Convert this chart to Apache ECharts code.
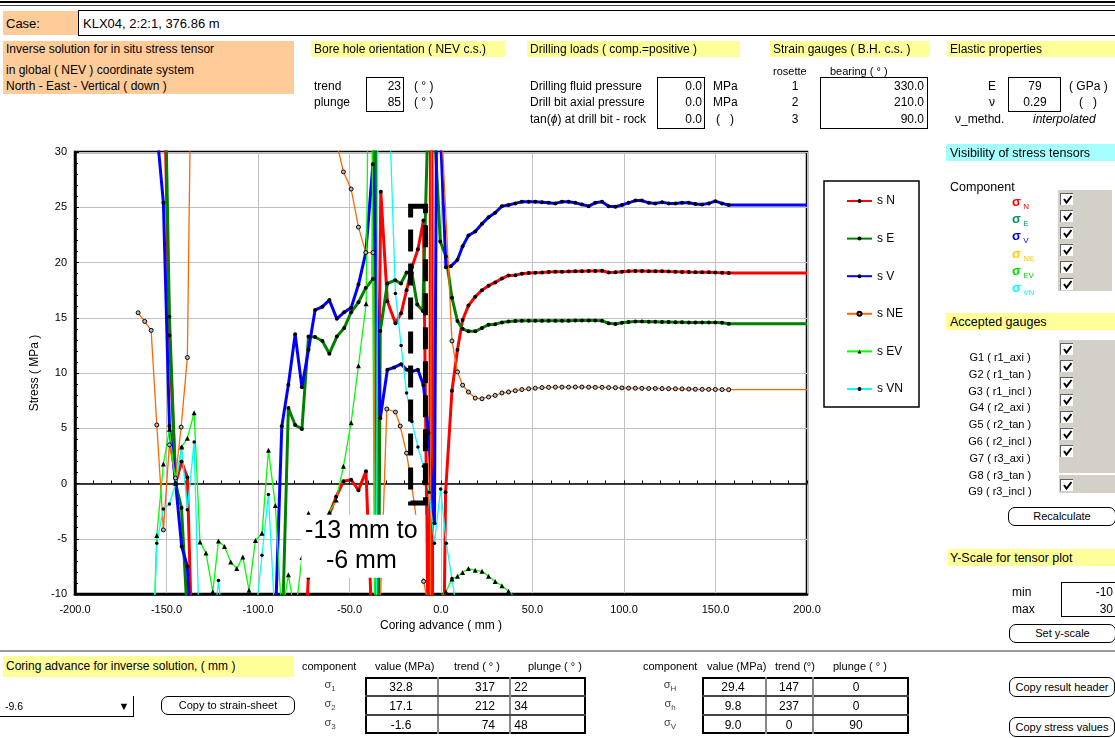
<!DOCTYPE html>
<html><head><meta charset="utf-8">
<script src="https://cdn.jsdelivr.net/npm/echarts@6/dist/echarts.min.js"></script>
<style>
html,body{margin:0;padding:0;background:#fff;}
body{width:1115px;height:738px;overflow:hidden;position:relative;font-family:'Liberation Sans',Arial,sans-serif;color:#000;}
#chart{position:absolute;left:0;top:0;width:1115px;height:738px;}
.t{position:absolute;white-space:nowrap;line-height:1;transform:translateY(-50%);font-size:12px;}
.r{transform:translate(-100%,-50%);}
.c{transform:translate(-50%,-50%);}
.blk{position:absolute;}
.or{background:#FFCC99;}
.ye{background:#FFFF99;}
.cy{background:#A6FFFF;}
.bx{position:absolute;border:1.5px solid #000;box-sizing:border-box;background:#fff;}
.btn{position:absolute;border:1px solid #000;border-radius:7px;box-sizing:border-box;text-align:center;font-size:11px;background:#fff;}
.gray{position:absolute;background:#D4D0C8;}
.cb{position:absolute;width:13px;height:12px;background:#fff;border-top:1px solid #606060;border-left:1px solid #606060;box-sizing:border-box;}
.cb svg{position:absolute;left:1px;top:0px;}
sub{font-size:8px;vertical-align:-3px;}
</style></head>
<body>
<div id="chart"></div>
<div id="panel"></div>
<script>
// ---------------- chart data ----------------
const seriesNames = ['s N', 's E', 's V', 's NE', 's EV', 's VN'];
const xRight = [18.7,22.4,26.0,29.6,33.3,36.9,40.6,44.2,47.9,51.5,55.2,58.8,62.5,66.1,69.7,73.4,77.0,80.7,84.3,88.0,91.6,95.3,98.9,102.5,106.2,109.8,113.5,117.1,120.8,124.4,128.1,131.7,135.4,139.0,142.7,146.3,149.9,153.6,157.2];

const sN_left = [[-151.7,40],[-148.4,13.4],[-145,0],[-141.8,2.0],[-138.6,0.55],[-136,-15],[-100,-30],[-76,-20],[-72.5,-8.5],[-68.8,-6.5],[-65,-4.8],[-61.5,-3.0],[-57.3,-1.2],[-53.3,0.2],[-49.1,0.34],[-45.1,-0.6],[-41.0,1.1],[-37.2,-15],[-35.5,-15],[-32.9,26.4],[-29.3,16.5],[-24.9,14.5],[-21.8,15.4],[-18.8,17.5],[-15.9,19.56],[-12.6,21.2],[-9.6,23.8],[-6.3,-25],[-5.3,80],[-4.2,-60],[0.5,-30],[2.5,-0.8],[6,8.4],[9,12.1],[11.8,14.8],[15,16.1]];
const sN_right = [16.9,17.5,17.9,18.2,18.55,18.83,18.85,18.99,19.05,19.08,19.1,19.14,19.17,19.17,19.18,19.2,19.2,19.22,19.24,19.26,19.1,19.12,19.17,19.2,19.22,19.22,19.2,19.2,19.2,19.18,19.17,19.15,19.13,19.12,19.12,19.12,19.1,19.08,19.05];

const sE_left = [[-151.7,45],[-148.4,15.1],[-145,0],[-141.8,-2.2],[-138.6,-12],[-110,-30],[-87,-15],[-83.4,6.83],[-79.7,5.3],[-76,4.93],[-72.4,13.3],[-68.8,13.26],[-64.8,12.9],[-61,11.75],[-56.9,13.3],[-52.9,14.07],[-49.1,15.5],[-45.1,16.4],[-41.1,17.7],[-37.2,18.5],[-36.2,60],[-35.0,-40],[-33.2,13.8],[-29.3,18.1],[-25,18.4],[-21.9,18.1],[-18.8,19.1],[-15.9,19.05],[-13.0,16.2],[-9.9,15.6],[-6.0,40],[-0.4,21.9],[2.7,20.55],[6,16.8],[9,14.7],[11.8,14.0],[15,13.77]];
const sE_right = [13.77,14.07,14.37,14.42,14.58,14.67,14.7,14.72,14.72,14.73,14.73,14.73,14.73,14.73,14.73,14.74,14.75,14.76,14.76,14.72,14.5,14.44,14.55,14.62,14.65,14.65,14.63,14.63,14.62,14.61,14.6,14.59,14.58,14.57,14.56,14.56,14.56,14.55,14.45];

const sV_left = [[-158.4,60],[-155.3,32],[-151.7,25.4],[-148.4,5.2],[-145,0],[-141.7,-5.7],[-138.6,-7.5],[-136,-15],[-110,-30],[-92,-20],[-87,5.17],[-83.4,8.94],[-79.7,13.5],[-76,8.7],[-72.4,12.1],[-68.8,15.7],[-64.8,16.0],[-61,16.6],[-56.9,14.9],[-52.9,15.5],[-49.1,15.9],[-45.1,18],[-41.1,20.9],[-37.2,28.9],[-33.2,5.9],[-29.3,10.3],[-25.6,10.5],[-21.8,10.8],[-18.8,10.3],[-15.9,10.15],[-12.6,10.3],[-9.6,8.9],[-6.8,4.6],[-3.6,-3.6],[-1.6,60],[-0.6,33],[2.7,19.56],[5.4,19.65],[9,20.25],[11.8,21.46],[15,22.45]];
const sV_right = [22.8,23.5,24.1,24.5,25.1,25.2,25.35,25.5,25.5,25.5,25.45,25.4,25.35,25.5,25.5,25.4,25.25,25.1,25.4,25.5,25.1,25.05,25.2,25.4,25.6,25.6,25.4,25.35,25.45,25.35,25.35,25.4,25.4,25.3,25.25,25.35,25.55,25.35,25.2];

const sNE_left = [[-165.5,15.45],[-161.9,14.67],[-158.4,13.86],[-155.3,5.3],[-151.7,-4.2],[-148.4,3.5],[-145.1,0.5],[-142,5.1],[-138.6,11.4],[-134.9,60],[-100,70],[-61,60],[-57.3,31],[-53.3,28.2],[-49.1,26.65],[-45.1,23.2],[-41.1,20.9],[-37.2,20.9],[-35,-20],[-29.6,6.74],[-24.9,6.47],[-22.3,5.2],[-18.8,2.75],[-14.6,-1.77],[-9.5,-8.86],[-5.8,-12],[-4.6,80],[0.2,32.7],[6,12.9],[9,10.1],[11.8,8.9],[15,8.28]];
const sNE_right = [7.73,7.67,7.83,7.97,8.19,8.28,8.4,8.5,8.57,8.62,8.68,8.7,8.72,8.72,8.72,8.73,8.73,8.72,8.7,8.7,8.68,8.67,8.65,8.63,8.62,8.61,8.6,8.6,8.59,8.58,8.57,8.56,8.55,8.53,8.52,8.52,8.51,8.5,8.49];

const sEV = [[-156.8,-12],[-155.3,-4.7],[-151.7,1.76],[-148.4,4.9],[-145,0],[-141.7,3.3],[-138.6,4.1],[-134.9,6.4],[-131.7,-5.3],[-128.4,-6.3],[-124.7,-9.8],[-121.6,-5.2],[-118.3,-5.7],[-114.9,-7.1],[-111.6,-7.7],[-108.3,-6.65],[-104.9,-9.67],[-101.4,-5.15],[-97.8,-4.5],[-94.3,3.0],[-90.5,-2.0],[-87,-12],[-83.4,-8.25],[-79.7,-12],[-76,-6.7],[-72.4,-2.7],[-68.8,-4],[-65,-3.5],[-61,-2.6],[-57.3,-1.5],[-53.3,1.55],[-49.1,5.5],[-45.1,10.66],[-40.9,16.27],[-38.5,60],[-35.5,-40],[-20,-30],[-3,-20],[-0.4,-10.2],[2.7,-9.8],[6,-8.64],[9,-8.4],[11.8,-8.05],[15,-7.7],[18.7,-7.86],[22.4,-7.95],[26,-8.4],[29.6,-8.86],[33.3,-9.25],[36.9,-9.76],[40.6,-10.3],[44.2,-11],[60,-13]];

const sVN = [[-157,-14],[-155.3,-5.4],[-151.7,-2.3],[-148.4,-1.86],[-145,0],[-141.7,3.27],[-138.6,-2.37],[-134.9,3.75],[-131.7,-16],[-124.7,-14],[-121.6,-8.77],[-118.3,-14],[-101.4,-12],[-97.8,-6.5],[-94.3,-1.0],[-90.5,-13],[-40,-20],[-36,-60],[-34,70],[-31.5,50],[-24.9,17.2],[-21.8,12.5],[-18.8,8.2],[-15.9,5.6],[-12.6,3.3],[-9.6,1.55],[-6.5,-0.8],[-3.6,-5.4],[-0.2,-0.5],[2.9,-5.4],[6,-8.6],[9,-12],[20,-20]];

const xTicks = [-200, 200, 50];
const yTicks = [-10, 30, 5];
const boxRange = [[-16.6, 25.1], [-8.5, -1.77]];
const annotText = '-13 mm to\n-6 mm';

// ---------------- dashboard values ----------------
const caseText = 'KLX04, 2:2:1, 376.86 m';
const boreVals = ['23', '85'];
const drillVals = ['0.0', '0.0', '0.0'];
const rosetteIds = ['1', '2', '3'];
const bearings = ['330.0', '210.0', '90.0'];
const elastic = ['79', '0.29'];
const gaugeNames = ['G1 ( r1_axi )','G2 ( r1_tan )','G3 ( r1_incl )','G4 ( r2_axi )','G5 ( r2_tan )','G6 ( r2_incl )','G7 ( r3_axi )','G8 ( r3_tan )','G9 ( r3_incl )'];
const principal = [['32.8','317','22'],['17.1','212','34'],['-1.6','74','48']];
const horiz = [['29.4','147','0'],['9.8','237','0'],['9.0','0','90']];
const yScale = ['-10', '30'];
const coringValue = '-9.6';

function build(left, right) {
  const d = left.map(p => [p[0], p[1]]);
  if (right) {
    for (let i = 0; i < xRight.length; i++) d.push([xRight[i], right[i]]);
    d.push({value: [200, right[right.length - 1]], symbol: 'none'});
  }
  return d;
}

const FF = "'Liberation Sans', Arial, sans-serif";
function mkSeries(name, data, color, width, symbol, size, fill) {
  return {
    name, type: 'line', data, clip: true, showSymbol: true, showAllSymbol: true,
    symbol, symbolSize: size, animation: false,
    lineStyle: {color, width},
    itemStyle: {color: fill, borderColor: '#000', borderWidth: symbol === 'circle' && fill !== '#000' ? 1 : 0},
    emphasis: {disabled: true}, z: 3
  };
}

const chart = echarts.init(document.getElementById('chart'), null, {renderer: 'canvas'});
const option = {
  animation: false,
  backgroundColor: 'transparent',
  textStyle: {fontFamily: FF},
  grid: {left: 75, right: 308, top: 152, bottom: 144, show: true, borderColor: '#000', borderWidth: 2.5, backgroundColor: 'transparent', outerBoundsMode: 'none', containLabel: false},
  legend: {
    orient: 'vertical', left: 824, top: 181, data: seriesNames,
    borderColor: '#000', borderWidth: 1.5, padding: [14, 16, 12, 22],
    itemGap: 25.6, itemWidth: 25, itemHeight: 5,
    textStyle: {fontSize: 12, color: '#000', fontFamily: FF}, backgroundColor: '#fff'
  },
  xAxis: [{
    type: 'value', min: xTicks[0], max: xTicks[1], interval: xTicks[2], position: 'bottom',
    axisLine: {show: true, onZero: false, lineStyle: {color: '#000', width: 2.5}},
    axisTick: {show: false},
    axisLabel: {formatter: v => v.toFixed(1), fontSize: 11, color: '#000', margin: 10, fontFamily: FF},
    splitLine: {show: true, lineStyle: {color: '#C0C0C0', width: 1}},
    name: 'Coring advance ( mm )', nameLocation: 'middle', nameGap: 26,
    nameTextStyle: {fontSize: 12, color: '#000', fontFamily: FF}
  }, {
    type: 'value', min: xTicks[0], max: xTicks[1], interval: 10, position: 'bottom',
    axisLine: {show: true, onZero: true, onZeroAxisIndex: 0, lineStyle: {color: '#000', width: 1.5}},
    axisTick: {show: true, inside: true, length: 3, lineStyle: {color: '#000', width: 1}},
    axisLabel: {show: false}, splitLine: {show: false}
  }],
  yAxis: [{
    type: 'value', min: yTicks[0], max: yTicks[1], interval: yTicks[2],
    axisLine: {show: true, onZero: false, lineStyle: {color: '#000', width: 2.5}},
    axisTick: {show: true, inside: true, length: 4, lineStyle: {color: '#000'}},
    minorTick: {show: true, splitNumber: 5, length: 3, lineStyle: {color: '#000'}},
    axisLabel: {fontSize: 11, color: '#000', margin: 8, fontFamily: FF},
    splitLine: {show: true, lineStyle: {color: '#C0C0C0', width: 1}},
    name: 'Stress ( MPa )', nameLocation: 'middle', nameGap: 26, nameRotate: 90,
    nameTextStyle: {fontSize: 12, color: '#000', fontFamily: FF}
  }],
  series: [
    mkSeries('s N', build(sN_left, sN_right), '#FF0000', 3, 'circle', 4, '#000'),
    mkSeries('s E', build(sE_left, sE_right), '#008000', 3, 'circle', 4, '#000'),
    mkSeries('s V', build(sV_left, sV_right), '#0000FF', 3, 'circle', 4, '#000'),
    mkSeries('s NE', build(sNE_left, sNE_right), '#FF6600', 1.3, 'circle', 4, '#BBBBBB'),
    mkSeries('s EV', build(sEV), '#00FF00', 1.3, 'triangle', 5, '#000'),
    mkSeries('s VN', build(sVN), '#00FFFF', 1.3, 'circle', 3.5, '#000')
  ]
};
chart.setOption(option);

// annotations placed through the axes
const p1 = chart.convertToPixel({gridIndex: 0}, boxRange[0]);
const p2 = chart.convertToPixel({gridIndex: 0}, boxRange[1]);
const t1 = chart.convertToPixel({gridIndex: 0}, [-76.3, -2.83]);
const t2 = chart.convertToPixel({gridIndex: 0}, [-8.6, -8.53]);
chart.setOption({
  graphic: [
    {type: 'rect', z: 50, shape: {x: p1[0], y: p1[1], width: p2[0] - p1[0], height: p2[1] - p1[1]},
     style: {fill: 'none', stroke: '#000', lineWidth: 5, lineDash: [22, 12]}},
    {type: 'rect', z: 51, shape: {x: t1[0], y: t1[1], width: t2[0] - t1[0], height: t2[1] - t1[1]},
     style: {fill: '#fff', stroke: 'none'}},
    {type: 'text', z: 52, x: (t1[0] + t2[0]) / 2 - 2, y: (t1[1] + t2[1]) / 2,
     style: {text: annotText, font: "25px 'Liberation Sans', Arial, sans-serif", fill: '#000', align: 'center', verticalAlign: 'middle', lineHeight: 30}}
  ]
});

// ---------------- dashboard (HTML) ----------------
const P = document.getElementById('panel');
function blk(cls, x, y, w, h, extra) {
  const d = document.createElement('div');
  d.className = cls;
  d.style.cssText = `left:${x}px;top:${y}px;width:${w}px;height:${h}px;` + (extra || '');
  P.appendChild(d); return d;
}
function txt(s, x, y, size, al, extra) {
  const d = document.createElement('div');
  d.className = 't' + (al ? ' ' + al : '');
  d.style.cssText = `left:${x}px;top:${y}px;font-size:${size}px;` + (extra || '');
  d.innerHTML = s; P.appendChild(d); return d;
}
function cb(x, y) {
  const d = blk('cb', x, y, 13, 12);
  d.innerHTML = '<svg width="11" height="11"><path d="M2 5 L4.5 8.5 L9.5 2" stroke="#000" stroke-width="2" fill="none"/></svg>';
}
function btn(s, x, y, w, h) {
  const d = blk('btn', x, y, w, h, `line-height:${h - 2}px;`);
  d.textContent = s;
}

// top lines
blk('blk', 0, 1, 1115, 2, 'background:#000;');
blk('blk', 0, 5, 1115, 1, 'background:#444;');
// case row
blk('blk or', 3, 11, 75, 24);
txt('Case:', 6, 23, 13);
blk('bx', 78, 10, 1040, 26);
txt(caseText, 83, 23, 13);
// orange block
blk('blk or', 3, 41, 291, 53);
txt('Inverse solution for in situ stress tensor', 6, 49, 12);
txt('in global ( NEV ) coordinate system', 6, 70, 12);
txt('North - East - Vertical ( down )', 6, 86, 12);
// bore hole
blk('blk ye', 311, 41, 194, 16);
txt('Bore hole orientation ( NEV c.s.)', 314, 49, 12);
txt('trend', 314, 86, 12); txt('plunge', 314, 102, 12);
blk('bx', 366, 77, 38, 35);
txt(boreVals[0], 401, 86, 12, 'r'); txt(boreVals[1], 401, 102, 12, 'r');
txt('( ° )', 414, 86, 12); txt('( ° )', 414, 102, 12);
// drilling loads
blk('blk ye', 527, 41, 213, 16);
txt('Drilling loads ( comp.=positive )', 530, 49, 12);
txt('Drilling fluid pressure', 530, 86, 12);
txt('Drill bit axial pressure', 530, 102, 12);
txt('tan(<i>ϕ</i>) at drill bit - rock', 530, 119, 12);
blk('bx', 657, 77, 48, 52);
drillVals.forEach((v, i) => txt(v, 702, [86, 102, 119][i], 12, 'r'));
txt('MPa', 713, 86, 12); txt('MPa', 713, 102, 12); txt('(&nbsp;&nbsp; )', 716, 119, 12);
// strain gauges
blk('blk ye', 770, 41, 159, 16);
txt('Strain gauges ( B.H. c.s. )', 773, 49, 12);
txt('rosette', 773, 71, 11); txt('bearing ( ° )', 830, 71, 11);
rosetteIds.forEach((v, i) => txt(v, 795, [86, 102, 119][i], 12, 'c'));
blk('bx', 820, 77, 108, 52);
bearings.forEach((v, i) => txt(v, 924, [86, 102, 119][i], 12, 'r'));
// elastic
blk('blk ye', 947, 41, 168, 16);
txt('Elastic properties', 950, 49, 12);
txt('E', 992, 86, 12, 'c'); txt('ν', 992, 102, 12, 'c'); txt('ν_methd.', 955, 119, 12);
blk('bx', 1008, 77, 53, 35);
txt(elastic[0], 1035, 86, 12, 'c'); txt(elastic[1], 1035, 102, 12, 'c');
txt('( GPa )', 1069, 86, 12); txt('(&nbsp;&nbsp; )', 1079, 102, 12);
txt('interpolated', 1033, 119, 12, '', 'font-style:italic;');

// visibility panel
blk('blk cy', 946, 144, 169, 17);
txt('Visibility of stress tensors', 950, 153, 12.5);
txt('Component', 950, 187, 12.5);
const comps = [['N', '#FF0000'], ['E', '#009966'], ['V', '#0000FF'], ['NE', '#FFCC00'], ['EV', '#00DD00'], ['VN', '#00FFFF']];
blk('gray', 1058, 190, 54, 101);
comps.forEach((c, i) => {
  txt(`<b style="font-size:13px">σ</b><sub> ${c[0]}</sub>`, 1012, 203 + 17.2 * i, 12, '', `color:${c[1]};`);
  cb(1060, 193 + 17 * i);
});
// gauges
blk('blk ye', 946, 313, 169, 17);
txt('Accepted gauges', 950, 322, 12.5);
blk('gray', 1059, 340, 56, 133);
blk('gray', 1059, 475, 56, 18);
gaugeNames.forEach((g, i) => {
  txt(g, 1000, 357 + 16.8 * i, 11, 'c');
  if (i < 7) cb(1060, 343 + 17 * i);
});
cb(1060, 479);
btn('Recalculate', 1008, 507, 108, 19);
blk('blk ye', 948, 549, 167, 17);
txt('Y-Scale for tensor plot', 950, 558, 12.5);
txt('min', 1012, 592, 12); txt('max', 1012, 609, 12);
blk('bx', 1061, 582, 56, 35);
txt(yScale[0], 1113, 592, 12, 'r'); txt(yScale[1], 1113, 609, 12, 'r');
btn('Set y-scale', 1009, 624, 107, 19);

// bottom
blk('blk', 0, 650, 1115, 2, 'background:#999;');
blk('blk ye', 3, 656, 291, 21);
txt('Coring advance for inverse solution, ( mm )', 6, 666, 12);
txt(coringValue, 5, 706, 10.5);
blk('blk', 0, 716, 115, 1, 'background:#000;');
const dd = blk('blk', 115, 696, 19, 21, 'border-right:1px solid #000;border-bottom:1px solid #000;box-sizing:border-box;text-align:center;font-size:11px;line-height:20px;');
dd.textContent = '▼';
btn('Copy to strain-sheet', 161, 696, 134, 19);

txt('component', 302, 666, 11);
txt('value (MPa)', 375, 666, 11);
txt('trend ( ° )', 454, 666, 11);
txt('plunge ( ° )', 528, 666, 11);
const c1 = [365, 438, 510, 586];
const rowY = [677, 696, 715, 734];
blk('bx', c1[0], rowY[0], c1[3] - c1[0], rowY[3] - rowY[0], 'border-width:2px;');
for (let i = 1; i < 3; i++) {
  blk('blk', c1[i] - 1, rowY[0], 2, rowY[3] - rowY[0], 'background:#888;');
  blk('blk', c1[0], rowY[i] - 1, c1[3] - c1[0], 2, 'background:#444;');
}
['σ<sub>1</sub>', 'σ<sub>2</sub>', 'σ<sub>3</sub>'].forEach((s, i) => txt(s, 330, 686 + 19 * i, 11, 'c', 'color:#444;'));
principal.forEach((r, i) => {
  const y = 686.5 + 19 * i;
  txt(r[0], 401, y, 12, 'c');
  txt(r[1], 495, y, 12, 'r');
  txt(r[2], 521, y, 12, 'c');
});

txt('component', 643, 666, 11);
txt('value (MPa)', 707, 666, 11);
txt('trend (°)', 775, 666, 11);
txt('plunge ( ° )', 833, 666, 11);
const c2 = [702, 766, 813, 909];
blk('bx', c2[0], rowY[0], c2[3] - c2[0], rowY[3] - rowY[0], 'border-width:2px;');
for (let i = 1; i < 3; i++) {
  blk('blk', c2[i] - 1, rowY[0], 2, rowY[3] - rowY[0], 'background:#888;');
  blk('blk', c2[0], rowY[i] - 1, c2[3] - c2[0], 2, 'background:#444;');
}
['σ<sub>H</sub>', 'σ<sub>h</sub>', 'σ<sub>V</sub>'].forEach((s, i) => txt(s, 670, 686 + 19 * i, 11, 'c', 'color:#444;'));
horiz.forEach((r, i) => {
  const y = 686.5 + 19 * i;
  txt(r[0], 733, y, 12, 'c');
  txt(r[1], 789, y, 12, 'c');
  txt(r[2], 856, y, 12, 'c');
});
btn('Copy result header', 1009, 677, 106, 20);
btn('Copy stress values', 1009, 717, 106, 20);
</script>
</body></html>
